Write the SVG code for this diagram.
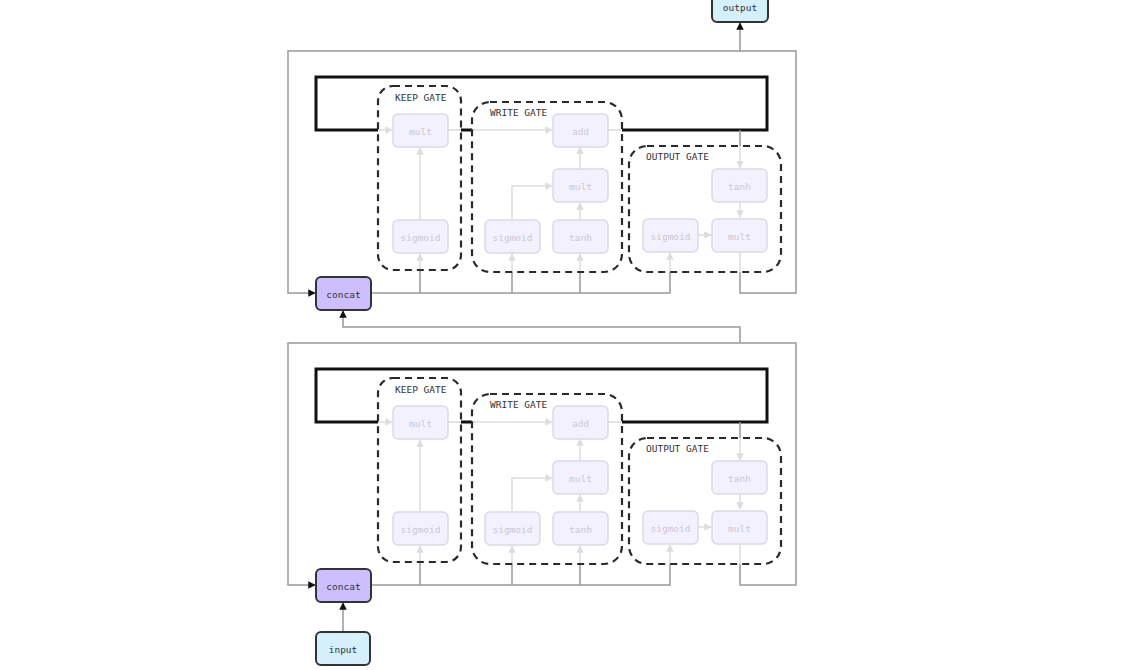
<svg xmlns="http://www.w3.org/2000/svg" width="1130" height="670" viewBox="0 0 1130 670">
<style>
text{font-family:"DejaVu Sans Mono","Liberation Mono",monospace;font-size:9.5px;text-anchor:middle;dominant-baseline:central}
.fade rect{fill:#f3f1fe;stroke:#dcdae4;stroke-width:1.5}
.fade text{fill:#cac8d4}
.gate rect{fill:none;stroke:#2a2a2a;stroke-width:2.2;stroke-dasharray:7 5}
.gate text{fill:#333;text-anchor:start}
.concat rect{fill:#cdbfff;stroke:#333;stroke-width:2}
.io rect{fill:#d5effb;stroke:#333;stroke-width:2}
.io text,.concat text{fill:#333}
.thick{fill:none;stroke:#111;stroke-width:3}
.gray{fill:none;stroke:#999;stroke-width:1.5}
.light{fill:none;stroke:#ddd;stroke-width:1.5}
</style>
<defs>
<marker id="ab" viewBox="0 0 10 10" refX="9" refY="5" markerWidth="5" markerHeight="5" orient="auto"><path d="M0,0L10,5L0,10z" fill="#111"/></marker>
<marker id="al" viewBox="0 0 10 10" refX="9" refY="5" markerWidth="5" markerHeight="5" orient="auto"><path d="M0,0L10,5L0,10z" fill="#ddd"/></marker>
</defs>
<rect width="1130" height="670" fill="#fff"/>

<g id="connectors">
<path class="gray" d="M740,343V327H343V311" marker-end="url(#ab)"/>
<path class="gray" d="M740,51V23" marker-end="url(#ab)"/>
<path class="gray" d="M343,632V603" marker-end="url(#ab)"/>
</g>

<g id="cell-top">
<g id="cell-top-connectors">
<path class="thick" d="M378,130H316V77H767V130H622M461,130H472"/>
<path class="light" d="M378,130H392" marker-end="url(#al)"/>
<path class="light" d="M448,130H461M472,130H552" marker-end="url(#al)"/>
<path class="light" d="M608,130H622"/>
<path class="gray" d="M740,130V146"/>
<path class="light" d="M740,146V168" marker-end="url(#al)"/>
<path class="light" d="M420,220V148" marker-end="url(#al)"/>
<path class="light" d="M512,219V186H552" marker-end="url(#al)"/>
<path class="light" d="M580,219V203" marker-end="url(#al)"/>
<path class="light" d="M580,169V147" marker-end="url(#al)"/>
<path class="light" d="M740,202V217" marker-end="url(#al)"/>
<path class="light" d="M698,235H711" marker-end="url(#al)"/>
<path class="light" d="M740,252V272"/>
<path class="gray" d="M740,272V293H796V51H288V293H315" marker-end="url(#ab)"/>
<path class="gray" d="M371,293H670V272M420,293V270M512,293V272M580,293V272"/>
<path class="light" d="M420,270V254" marker-end="url(#al)"/>
<path class="light" d="M512,272V254" marker-end="url(#al)"/>
<path class="light" d="M580,272V254" marker-end="url(#al)"/>
<path class="light" d="M670,272V253" marker-end="url(#al)"/>
</g>
<g id="top-keep-gate" class="gate"><rect x="378" y="86" width="83" height="184" rx="15"/><text x="395" y="97">KEEP GATE</text></g>
<g id="top-write-gate" class="gate"><rect x="472" y="102" width="150" height="170" rx="18"/><text x="490" y="112">WRITE GATE</text></g>
<g id="top-output-gate" class="gate"><rect x="629" y="146" width="152" height="126" rx="18"/><text x="646" y="156">OUTPUT GATE</text></g>
<g id="top-keep-mult" class="fade"><rect x="393" y="114" width="55" height="33" rx="5"/><text x="420.5" y="131">mult</text></g>
<g id="top-keep-sigmoid" class="fade"><rect x="393" y="220" width="55" height="33" rx="5"/><text x="420.5" y="237">sigmoid</text></g>
<g id="top-add" class="fade"><rect x="553" y="114" width="55" height="33" rx="5"/><text x="580.5" y="131">add</text></g>
<g id="top-write-mult" class="fade"><rect x="553" y="169" width="55" height="33" rx="5"/><text x="580.5" y="186">mult</text></g>
<g id="top-write-sigmoid" class="fade"><rect x="485" y="220" width="55" height="33" rx="5"/><text x="512.5" y="237">sigmoid</text></g>
<g id="top-write-tanh" class="fade"><rect x="553" y="220" width="55" height="33" rx="5"/><text x="580.5" y="237">tanh</text></g>
<g id="top-out-tanh" class="fade"><rect x="712" y="169" width="55" height="33" rx="5"/><text x="739.5" y="186">tanh</text></g>
<g id="top-out-sigmoid" class="fade"><rect x="643" y="219" width="55" height="33" rx="5"/><text x="670.5" y="236">sigmoid</text></g>
<g id="top-out-mult" class="fade"><rect x="712" y="219" width="55" height="33" rx="5"/><text x="739.5" y="236">mult</text></g>
<g id="top-concat" class="concat"><rect x="316" y="277" width="55" height="33" rx="5"/><text x="343.5" y="294">concat</text></g>
</g>

<g id="cell-bottom" transform="translate(0,292)">
<g id="cell-bottom-connectors">
<path class="thick" d="M378,130H316V77H767V130H622M461,130H472"/>
<path class="light" d="M378,130H392" marker-end="url(#al)"/>
<path class="light" d="M448,130H461M472,130H552" marker-end="url(#al)"/>
<path class="light" d="M608,130H622"/>
<path class="gray" d="M740,130V146"/>
<path class="light" d="M740,146V168" marker-end="url(#al)"/>
<path class="light" d="M420,220V148" marker-end="url(#al)"/>
<path class="light" d="M512,219V186H552" marker-end="url(#al)"/>
<path class="light" d="M580,219V203" marker-end="url(#al)"/>
<path class="light" d="M580,169V147" marker-end="url(#al)"/>
<path class="light" d="M740,202V217" marker-end="url(#al)"/>
<path class="light" d="M698,235H711" marker-end="url(#al)"/>
<path class="light" d="M740,252V272"/>
<path class="gray" d="M740,272V293H796V51H288V293H315" marker-end="url(#ab)"/>
<path class="gray" d="M371,293H670V272M420,293V270M512,293V272M580,293V272"/>
<path class="light" d="M420,270V254" marker-end="url(#al)"/>
<path class="light" d="M512,272V254" marker-end="url(#al)"/>
<path class="light" d="M580,272V254" marker-end="url(#al)"/>
<path class="light" d="M670,272V253" marker-end="url(#al)"/>
</g>
<g id="bottom-keep-gate" class="gate"><rect x="378" y="86" width="83" height="184" rx="15"/><text x="395" y="97">KEEP GATE</text></g>
<g id="bottom-write-gate" class="gate"><rect x="472" y="102" width="150" height="170" rx="18"/><text x="490" y="112">WRITE GATE</text></g>
<g id="bottom-output-gate" class="gate"><rect x="629" y="146" width="152" height="126" rx="18"/><text x="646" y="156">OUTPUT GATE</text></g>
<g id="bottom-keep-mult" class="fade"><rect x="393" y="114" width="55" height="33" rx="5"/><text x="420.5" y="131">mult</text></g>
<g id="bottom-keep-sigmoid" class="fade"><rect x="393" y="220" width="55" height="33" rx="5"/><text x="420.5" y="237">sigmoid</text></g>
<g id="bottom-add" class="fade"><rect x="553" y="114" width="55" height="33" rx="5"/><text x="580.5" y="131">add</text></g>
<g id="bottom-write-mult" class="fade"><rect x="553" y="169" width="55" height="33" rx="5"/><text x="580.5" y="186">mult</text></g>
<g id="bottom-write-sigmoid" class="fade"><rect x="485" y="220" width="55" height="33" rx="5"/><text x="512.5" y="237">sigmoid</text></g>
<g id="bottom-write-tanh" class="fade"><rect x="553" y="220" width="55" height="33" rx="5"/><text x="580.5" y="237">tanh</text></g>
<g id="bottom-out-tanh" class="fade"><rect x="712" y="169" width="55" height="33" rx="5"/><text x="739.5" y="186">tanh</text></g>
<g id="bottom-out-sigmoid" class="fade"><rect x="643" y="219" width="55" height="33" rx="5"/><text x="670.5" y="236">sigmoid</text></g>
<g id="bottom-out-mult" class="fade"><rect x="712" y="219" width="55" height="33" rx="5"/><text x="739.5" y="236">mult</text></g>
<g id="bottom-concat" class="concat"><rect x="316" y="277" width="55" height="33" rx="5"/><text x="343.5" y="294">concat</text></g>
</g>

<g id="output" class="io"><rect x="712" y="-11" width="56" height="33" rx="5"/><text x="740" y="7">output</text></g>
<g id="input" class="io"><rect x="316" y="632" width="54" height="33" rx="5"/><text x="343" y="649">input</text></g>
</svg>
